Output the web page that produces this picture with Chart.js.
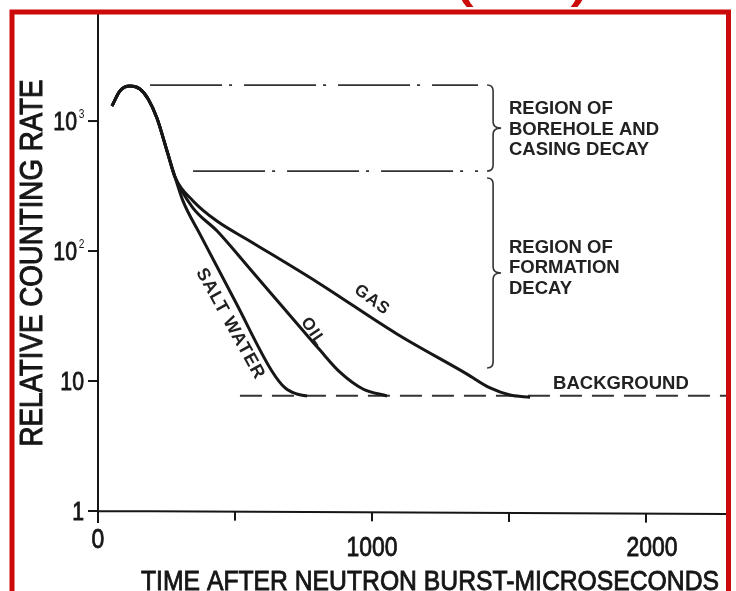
<!DOCTYPE html>
<html>
<head>
<meta charset="utf-8">
<script src="https://cdn.jsdelivr.net/npm/chart.js@4.4.0/dist/chart.umd.min.js"></script>
<style>
  html, body { margin: 0; padding: 0; background: #fff; }
  #wrap { width: 736px; height: 591px; position: relative; }
</style>
</head>
<body>
<div id="wrap"><canvas id="chart"></canvas></div>
<script>
// values: time in microseconds, relative counting rate
const commonTime = [51, 80, 117, 153, 183, 215, 252, 281];
const commonRate = [1304, 1702, 1858, 1763, 1476, 1054, 588, 371];

const saltWaterTime = [310, 372, 504, 635, 683, 726, 763];
const saltWaterRate = [243, 135, 39.8, 11.9, 8.84, 7.94, 7.67];

const oilTime = [347, 434, 555, 675, 810, 883, 967, 1055];
const oilRate = [214, 143, 72.7, 37, 17.3, 11.7, 8.68, 7.67];

const gasTime = [347, 434, 555, 799, 1091, 1347, 1431, 1504, 1577];
const gasRate = [243, 170, 119, 57.8, 23, 11.3, 8.84, 7.8, 7.5];

// region boundaries and background level
const boreholeTopRate = 1892;
const boreholeBottomRate = 412;
const formationBottomRate = 12.6;
const backgroundRate = 7.7;
const upperLineTime = [190, 1387];
const lowerLineTime = [347, 1387];
const backgroundTime = [518, 2292];

// axes
const xMax = 2292;
const yMin = 1, yMax = 6780;
const xTicks = [0, 500, 1000, 1500, 2000];
const xTickLabels = ['0', '', '1000', '', '2000'];
const yTicks = [1, 10, 100, 1000];
const yTickLabels = ['1', '10', '10', '10'];
const yTickExponents = ['', '', '2', '3'];

const xTitle = 'TIME AFTER NEUTRON BURST-MICROSECONDS';
const yTitle = 'RELATIVE COUNTING RATE';

const pts = (t, r) => t.map((x, i) => ({ x: x, y: r[i] }));
const flat = (t, v) => t.map(x => ({ x: x, y: v }));

const ink = '#161616';
const font = '"Liberation Sans", Arial, Helvetica, sans-serif';

// draw text squeezed to a given width, slightly stroked like the scan
function fitText(ctx, text, x, y, width, size, weight, thick) {
  ctx.save();
  ctx.font = (weight || '') + ' ' + size + 'px ' + font;
  const w = ctx.measureText(text).width;
  ctx.translate(x, y);
  ctx.scale(width / w, 1);
  ctx.textAlign = 'center';
  ctx.fillText(text, 0, 0);
  if (thick) {
    ctx.lineWidth = thick;
    ctx.strokeStyle = ctx.fillStyle;
    ctx.strokeText(text, 0, 0);
  }
  ctx.restore();
}

function brace(ctx, x, top, bottom) {
  const mid = (top + bottom) / 2;
  const r = 6;
  ctx.beginPath();
  ctx.moveTo(x - r, top);
  ctx.quadraticCurveTo(x, top, x, top + r);
  ctx.lineTo(x, mid - r);
  ctx.quadraticCurveTo(x, mid, x + r + 2, mid);
  ctx.quadraticCurveTo(x, mid, x, mid + r);
  ctx.lineTo(x, bottom - r);
  ctx.quadraticCurveTo(x, bottom, x - r, bottom);
  ctx.stroke();
}

const figurePlugin = {
  id: 'figure',
  afterDraw(chart) {
    const ctx = chart.ctx;
    const xs = chart.scales.x, ys = chart.scales.y;
    const area = chart.chartArea;
    const x0 = xs.getPixelForValue(0);
    const yBase = ys.getPixelForValue(yMin);

    ctx.save();
    ctx.strokeStyle = ink;
    ctx.fillStyle = ink;
    ctx.lineWidth = 2;

    // axes
    ctx.beginPath();
    ctx.moveTo(x0, area.top);
    ctx.lineTo(x0, yBase + 12);
    ctx.moveTo(x0, yBase);
    ctx.lineTo(area.right, yBase + 3);
    ctx.stroke();

    // y ticks and labels
    yTicks.forEach((v, i) => {
      const y = ys.getPixelForValue(v);
      ctx.beginPath();
      ctx.moveTo(x0 - 10, y);
      ctx.lineTo(x0, y);
      ctx.stroke();
      ctx.save();
      ctx.font = '25px ' + font;
      ctx.textAlign = 'right';
      ctx.textBaseline = 'alphabetic';
      const exp = yTickExponents[i];
      const right = exp ? x0 - 21 : x0 - 14;
      ctx.translate(right, y + 9);
      ctx.scale(0.85, 1);
      ctx.lineWidth = 0.8;
      ctx.fillText(yTickLabels[i], 0, 0);
      ctx.strokeText(yTickLabels[i], 0, 0);
      if (exp) {
        ctx.font = '12px ' + font;
        ctx.textAlign = 'left';
        ctx.fillText(exp, 2, -12);
      }
      ctx.restore();
    });

    // x ticks and labels
    xTicks.forEach((v, i) => {
      const x = xs.getPixelForValue(v);
      const yy = yBase + 3 * (x - x0) / (area.right - x0);
      if (v > 0) {
        ctx.beginPath();
        ctx.moveTo(x, yy);
        ctx.lineTo(x, yy + 9);
        ctx.stroke();
      }
      if (xTickLabels[i]) {
        ctx.save();
        ctx.font = '27px ' + font;
        ctx.textAlign = 'center';
        const dx = v === 2000 ? 6 : 0;
        const by = v === 0 ? yBase + 37 : yBase + 45;
        ctx.translate(x + dx, by);
        ctx.scale(0.85, 1);
        ctx.lineWidth = 0.8;
        ctx.fillText(xTickLabels[i], 0, 0);
        ctx.strokeText(xTickLabels[i], 0, 0);
        ctx.restore();
      }
    });

    // axis titles
    fitText(ctx, xTitle, 430, 590, 578, 28, '', 0.9);
    ctx.save();
    ctx.translate(42, 263);
    ctx.rotate(-Math.PI / 2);
    fitText(ctx, yTitle, 0, 0, 367, 31, '', 1);
    ctx.restore();

    // braces
    ctx.lineWidth = 1.6;
    ctx.strokeStyle = '#333';
    const bx = xs.getPixelForValue(1442);
    brace(ctx, bx, ys.getPixelForValue(boreholeTopRate), ys.getPixelForValue(boreholeBottomRate));
    brace(ctx, bx, ys.getPixelForValue(365), ys.getPixelForValue(formationBottomRate));

    // region text
    ctx.fillStyle = '#222';
    ctx.font = 'bold 18.5px ' + font;
    ctx.textAlign = 'left';
    ctx.textBaseline = 'middle';
    const tx = xs.getPixelForValue(1500);
    const c1 = ys.getPixelForValue(boreholeTopRate) + 44;
    ['REGION OF', 'BOREHOLE AND', 'CASING DECAY'].forEach((s, i) => ctx.fillText(s, tx, c1 - 20 + i * 20.5));
    const c2 = ys.getPixelForValue(100) + 17;
    ['REGION OF', 'FORMATION', 'DECAY'].forEach((s, i) => ctx.fillText(s, tx, c2 - 20.5 + i * 20.5));
    ctx.fillText('BACKGROUND', xs.getPixelForValue(1661), ys.getPixelForValue(9.5));

    // curve labels
    const curveLabels = [
      { text: 'SALT WATER', t: 483, r: 27.5, angle: 61, size: 18 },
      { text: 'OIL', t: 785, r: 23.8, angle: 56, size: 17 },
      { text: 'GAS', t: 1000, r: 42, angle: 36, size: 17 }
    ];
    ctx.textAlign = 'center';
    curveLabels.forEach(l => {
      ctx.save();
      ctx.font = 'bold ' + l.size + 'px ' + font;
      ctx.translate(xs.getPixelForValue(l.t), ys.getPixelForValue(l.r));
      ctx.rotate(l.angle * Math.PI / 180);
      ctx.letterSpacing = '1px';
      ctx.fillText(l.text, 0, 0);
      ctx.restore();
    });

    // red frame and clipped heading
    ctx.strokeStyle = '#cc0a0a';
    ctx.lineWidth = 5;
    ctx.strokeRect(12, 12, 716.5, 600);
    ctx.fillStyle = '#cc0a0a';
    ctx.textBaseline = 'alphabetic';
    fitText(ctx, '(TDT)', 522, -1, 130, 36, 'bold');
    ctx.restore();
  }
};

const lineStyle = {
  borderColor: ink,
  borderWidth: 3,
  pointRadius: 0,
  fill: false,
  cubicInterpolationMode: 'monotone'
};

new Chart(document.getElementById('chart'), {
  type: 'line',
  data: {
    datasets: [
      Object.assign({ label: 'SALT WATER', data: pts(commonTime, commonRate).concat(pts(saltWaterTime, saltWaterRate)) }, lineStyle),
      Object.assign({ label: 'OIL', data: pts(commonTime, commonRate).concat(pts(oilTime, oilRate)) }, lineStyle),
      Object.assign({ label: 'GAS', data: pts(commonTime, commonRate).concat(pts(gasTime, gasRate)) }, lineStyle),
      { label: 'BACKGROUND', data: flat(backgroundTime, backgroundRate), borderColor: '#333', borderWidth: 2, borderDash: [22, 10], pointRadius: 0 },
      { label: 'borehole top', data: flat(upperLineTime, boreholeTopRate), borderColor: '#333', borderWidth: 1.8, borderDash: [72, 7, 3, 12], pointRadius: 0 },
      { label: 'borehole bottom', data: flat(lowerLineTime, boreholeBottomRate), borderColor: '#333', borderWidth: 1.8, borderDash: [72, 7, 3, 12], pointRadius: 0 }
    ]
  },
  options: {
    responsive: true,
    maintainAspectRatio: false,
    animation: false,
    layout: { padding: { left: 98, right: 10, top: 13, bottom: 80 } },
    plugins: { legend: { display: false }, tooltip: { enabled: false } },
    scales: {
      x: { type: 'linear', min: 0, max: xMax, display: false },
      y: { type: 'logarithmic', min: yMin, max: yMax, display: false }
    }
  },
  plugins: [figurePlugin]
});
</script>
</body>
</html>
